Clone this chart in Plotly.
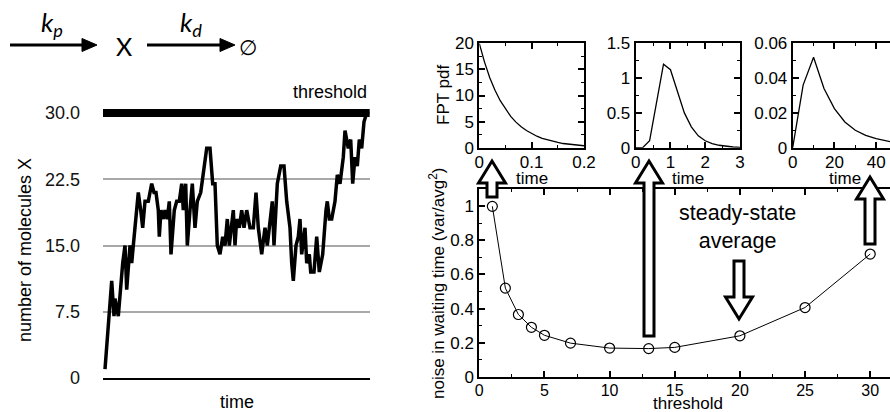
import plotly.graph_objects as go

W, H = 890, 412
def px(x): return x / W
def py(y): return 1 - y / H

# ---------------- data ----------------
time_steps = [0, 6.7, 9, 10, 13.3, 15.7, 17.7, 20, 21.7, 25,
              26.7, 28.3, 30, 33.3, 35.7, 37.7, 40, 43.3, 46.7, 49,
              51, 53.3, 54.3, 56, 58.3, 60, 62.3, 64.3, 66, 69.3,
              71.7, 74.3, 76.7, 78.3, 80.7, 82.3, 85, 87.3, 90, 92.3,
              95.7, 98.3, 101.7, 105, 107.7, 110, 112.3, 115, 117.7, 120,
              122.3, 124.3, 126.7, 128.3, 130, 131.7, 134.3, 136.7, 139, 141.7,
              145, 148.3, 151, 153.3, 156.7, 160, 162.3, 165, 167.3, 169,
              172.3, 175.7, 179, 181.7, 185, 186.7, 188.3, 191, 193.3, 195,
              196.7, 200, 201.7, 204.3, 205.7, 209, 211.7, 214.3, 217.7, 221,
              222.3, 224.3, 226.7, 230, 232.3, 235, 238.3, 240, 243.3, 245.7,
              247.7, 250, 252.3, 254.3, 256.7, 259, 261.7]
molecules = [1, 11, 7, 9, 7, 11, 13, 15, 10, 15,
             13, 15, 17, 21, 19, 17, 20, 20, 22, 21,
             21, 19, 16, 19, 18, 19, 18, 20, 14, 19,
             20, 20, 22, 19, 22, 15, 19, 22, 17, 20,
             21, 23, 26, 26, 22, 22, 15, 14, 16, 15,
             18, 15, 18, 19, 15, 18, 17, 19, 17, 19,
             17, 17, 21, 17, 14, 17, 15, 18, 20, 15,
             22, 24, 24, 20, 17, 13, 11, 15, 16, 18,
             14, 17, 13, 14, 12, 12, 16, 12, 14, 19,
             20, 18, 18, 20, 23, 22, 25, 28, 26, 27,
             22, 25, 24, 27, 26, 29, 30]
threshold_level = 30
mol_ticks = [0, 7.5, 15, 22.5, 30]
mol_ticktext = ["0", "7.5", "15.0", "22.5", "30.0"]

thresholds = [1, 2, 3, 4, 5, 7, 10, 13, 15, 20, 25, 30]
noise = [1.0, 0.52, 0.365, 0.29, 0.243, 0.197, 0.168, 0.165, 0.172, 0.24, 0.406, 0.72]

fpt1_t = [0, 0.01, 0.02, 0.03, 0.04, 0.05, 0.06, 0.07, 0.08, 0.09, 0.1,
          0.11, 0.12, 0.13, 0.14, 0.15, 0.16, 0.17, 0.18, 0.19, 0.2]
fpt1_p = [20, 16.4, 13.4, 11.0, 9.0, 7.4, 6.0, 4.9, 4.0, 3.3, 2.7,
          2.2, 1.8, 1.5, 1.2, 1.0, 0.8, 0.67, 0.55, 0.45, 0.37]

fpt2_t = [0, 0.2, 0.4, 0.8, 1.0, 1.2, 1.4, 1.6, 1.8, 2.0, 2.2, 2.4, 2.6, 2.8, 3.0]
fpt2_p = [0, 0, 0.1, 1.2, 1.12, 0.8, 0.5, 0.3, 0.17, 0.1, 0.06, 0.035, 0.02, 0.01, 0.005]

fpt3_t = [0, 5, 10, 15, 20, 25, 30, 35, 40, 45, 50]
fpt3_p = [0, 0.036, 0.052, 0.034, 0.0225, 0.0148, 0.0100, 0.0071, 0.0052, 0.0036, 0.0026]

FONT = "Liberation Sans"
fig = go.Figure()

# left: time series
fig.add_trace(go.Scatter(x=[time_steps[0] - 2, time_steps[-1] + 3], y=[threshold_level] * 2,
                         mode="lines", line=dict(color="black", width=8),
                         xaxis="x", yaxis="y", showlegend=False, hoverinfo="skip"))
fig.add_trace(go.Scatter(x=time_steps, y=molecules, mode="lines",
                         line=dict(color="black", width=3.5),
                         xaxis="x", yaxis="y", showlegend=False))

# main noise plot
fig.add_trace(go.Scatter(x=thresholds, y=noise, mode="lines+markers",
                         line=dict(color="black", width=1),
                         marker=dict(symbol="circle-open", size=10, color="black",
                                     line=dict(width=1.2, color="black")),
                         xaxis="x2", yaxis="y2", showlegend=False, cliponaxis=False))

# insets
for t, p, xa, ya in [(fpt1_t, fpt1_p, "x3", "y3"), (fpt2_t, fpt2_p, "x4", "y4"),
                     (fpt3_t, fpt3_p, "x5", "y5")]:
    fig.add_trace(go.Scatter(x=t, y=p, mode="lines", line=dict(color="black", width=1.3),
                             xaxis=xa, yaxis=ya, showlegend=False))

tickfont = dict(family=FONT, size=17, color="black")

def inset_axes(xdom, ydom, xr, xd, xm, yr, yd, ym, ymirror=True, xfont=None):
    xa = dict(domain=xdom, range=xr, dtick=xd, tick0=0, ticks="inside", ticklen=6,
              tickwidth=1.5, tickcolor="black", showline=True, linecolor="black",
              linewidth=2, mirror="ticks", showgrid=False, zeroline=False,
              tickfont=xfont or tickfont, automargin=False, ticklabelstandoff=-2,
              minor=dict(dtick=xm, ticks="inside", ticklen=3, tickwidth=1.2, tickcolor="black"))
    ya = dict(domain=ydom, range=yr, dtick=yd, tick0=0, ticks="inside", ticklen=6,
              tickwidth=1.5, tickcolor="black", showline=True, linecolor="black",
              linewidth=2, mirror="ticks" if ymirror else False, showgrid=False, zeroline=False,
              tickfont=tickfont, automargin=False,
              minor=dict(dtick=ym, ticks="inside", ticklen=3, tickwidth=1.2, tickcolor="black"))
    return xa, ya

ydom_in = [py(147.7), py(43.3)]
x3, y3 = inset_axes([px(479.3), px(584)], ydom_in, [0, 0.2], 0.1, 0.05, [0, 20], 5, 2.5)
x4, y4 = inset_axes([px(635.7), px(740)], ydom_in, [0, 3], 1, 0.5, [0, 1.5], 0.5, 0.25)
x5, y5 = inset_axes([px(792.7), 1.0], ydom_in, [0, 50 * (890 - 792.7) / 104.3], 20, 10,
                    [0, 0.06], 0.02, 0.01, ymirror=False)
x3["anchor"] = "y3"; y3["anchor"] = "x3"
x4["anchor"] = "y4"; y4["anchor"] = "x4"
x5["anchor"] = "y5"; y5["anchor"] = "x5"

x2, y2 = inset_axes([px(479.3), 1.0], [py(376.7), py(189.3)], [0, (890 - 479.3) / 13.03],
                    5, 2.5, [0, 1.1], 0.2, 0.1, ymirror=False,
                    xfont=dict(family=FONT, size=16, color="black"))
x2["anchor"] = "y2"; y2["anchor"] = "x2"

fig.update_layout(
    template="none",
    width=W, height=H, margin=dict(l=0, r=0, t=0, b=0, pad=0), autosize=False,
    paper_bgcolor="white", plot_bgcolor="rgba(0,0,0,0)",
    xaxis=dict(domain=[px(103), px(370)], range=[time_steps[0] - 2, time_steps[-1] + 3.3],
               showticklabels=False, ticks="", showgrid=False, zeroline=False,
               showline=True, linecolor="black", linewidth=1.5, anchor="y", automargin=False),
    yaxis=dict(domain=[py(378), py(378 - 31.2 * 8.833)], range=[0, 31.2],
               tickvals=mol_ticks, ticktext=mol_ticktext, ticks="",
               showgrid=True, gridcolor="#a8a8a8", gridwidth=1.5, zeroline=False,
               showline=False, tickfont=dict(family=FONT, size=18, color="#111"),
               ticklabelstandoff=22, anchor="x", automargin=False),
    xaxis2=x2, yaxis2=y2, xaxis3=x3, yaxis3=y3, xaxis4=x4, yaxis4=y4,
    xaxis5=x5, yaxis5=y5,
)

ann = []
def text(x, y, s, size, angle=0, xanchor="center", family=FONT):
    ann.append(dict(x=px(x), y=py(y), xref="paper", yref="paper", text=s, showarrow=False,
                    font=dict(family=family, size=size, color="black"), textangle=angle,
                    xanchor=xanchor, yanchor="middle"))

text(25, 250, "number of molecules X", 18, -90)
text(237, 402, "time", 18)
text(369, 92, "threshold", 18, xanchor="right")
text(443, 95, "FPT pdf", 17, -90)
text(532, 178, "time", 17)
text(688, 178, "time", 17)
text(845, 178, "time", 17)
text(688, 403, "threshold", 17)
text(437, 283, "noise in waiting time (var/avg<sup>2</sup>)", 17, -90)
text(737, 227, "steady-state<br>average", 21.5)
# reaction scheme
text(52, 24, "<i>k</i><sub><i>p</i></sub>", 26, family="Lato")
text(124, 46, "X", 25, family="Lato")
text(191, 24, "<i>k</i><sub><i>d</i></sub>", 26, family="Lato")
text(248, 48, "\u2205", 21, family="DejaVu Sans")
fig.update_layout(annotations=ann)

shapes = []
def pth(pts):
    return "M " + " L ".join(f"{px(x):.5f},{py(y):.5f}" for x, y in pts) + " Z"

# thin reaction arrows
for x0, x1 in [(10, 97), (147, 235)]:
    shapes.append(dict(type="line", xref="paper", yref="paper", x0=px(x0), x1=px(x1 - 10),
                       y0=py(45), y1=py(45), line=dict(color="black", width=3)))
    shapes.append(dict(type="path", xref="paper", yref="paper",
                       path=pth([(x1 - 15, 38.5), (x1, 45), (x1 - 15, 51.5)]),
                       fillcolor="black", line=dict(color="black", width=1)))

def block_arrow(x, tip, head, end, sw=5, hw=13.5):
    pts = [(x - sw, end), (x - sw, head), (x - hw, head), (x, tip),
           (x + hw, head), (x + sw, head), (x + sw, end)]
    shapes.append(dict(type="path", xref="paper", yref="paper", path=pth(pts),
                       fillcolor="white", line=dict(color="black", width=3)))

block_arrow(492, 161, 183, 197)
block_arrow(649, 161, 183, 336)
block_arrow(870, 177, 199, 244)
block_arrow(739, 319, 297, 261)
fig.update_layout(shapes=shapes)

fig.write_html("out.html")
